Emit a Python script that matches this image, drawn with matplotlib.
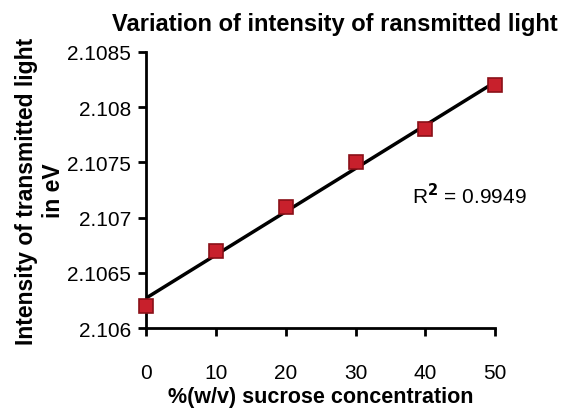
import numpy as np
from matplotlib import pyplot as plt

plt.rcParams['font.family'] = ['Liberation Sans', 'DejaVu Sans']

# sucrose concentration vs transmitted light intensity
conc = [0, 10, 20, 30, 40, 50]
intensity = [2.1062, 2.1067, 2.1071, 2.1075, 2.1078, 2.1082]
y_ticks = [2.106, 2.1065, 2.107, 2.1075, 2.108, 2.1085]
y_tick_labels = ['2.106', '2.1065', '2.107', '2.1075', '2.108', '2.1085']
x_ticks = [0, 10, 20, 30, 40, 50]

fig = plt.figure(figsize=(5.66, 4.14), dpi=100)
ax = fig.add_axes([0.258, 0.205, 0.617, 0.667])

# linear trendline
coef = np.polyfit(conc, intensity, 1)
xs = np.array([0, 50])
ax.plot(xs, np.polyval(coef, xs), color='black', lw=2.5, zorder=2)
ax.plot(conc, intensity, 's', ms=10, color='#c8202c', mec='#8a1018', mew=1.2,
        zorder=3, clip_on=False)

ax.text(38.1, 2.10721, r'R$^{\mathbf{2}}$ = 0.9949', fontsize=15, va='center', ha='left')

ax.set_xlim(0, 50)
ax.set_ylim(2.106, 2.1085)
ax.set_xticks(x_ticks)
ax.set_yticks(y_ticks)
ax.set_yticklabels(y_tick_labels)
for s in ['top', 'right']:
    ax.spines[s].set_visible(False)
for s in ['left', 'bottom']:
    ax.spines[s].set_linewidth(2)
ax.tick_params(direction='out', length=6, width=2, labelsize=15, pad=5)
ax.tick_params(axis='x', pad=19)

ax.set_title('Variation of intensity of ransmitted light', fontsize=17, fontweight='bold',
             x=0.54, pad=16)
ax.set_xlabel('%(w/v) sucrose concentration', fontsize=15.5, fontweight='bold', labelpad=3)
ax.set_ylabel('Intensity of transmitted light\nin eV', fontsize=16.5, fontweight='bold',
              labelpad=1.5)

fig.savefig('out.png', dpi=100)
